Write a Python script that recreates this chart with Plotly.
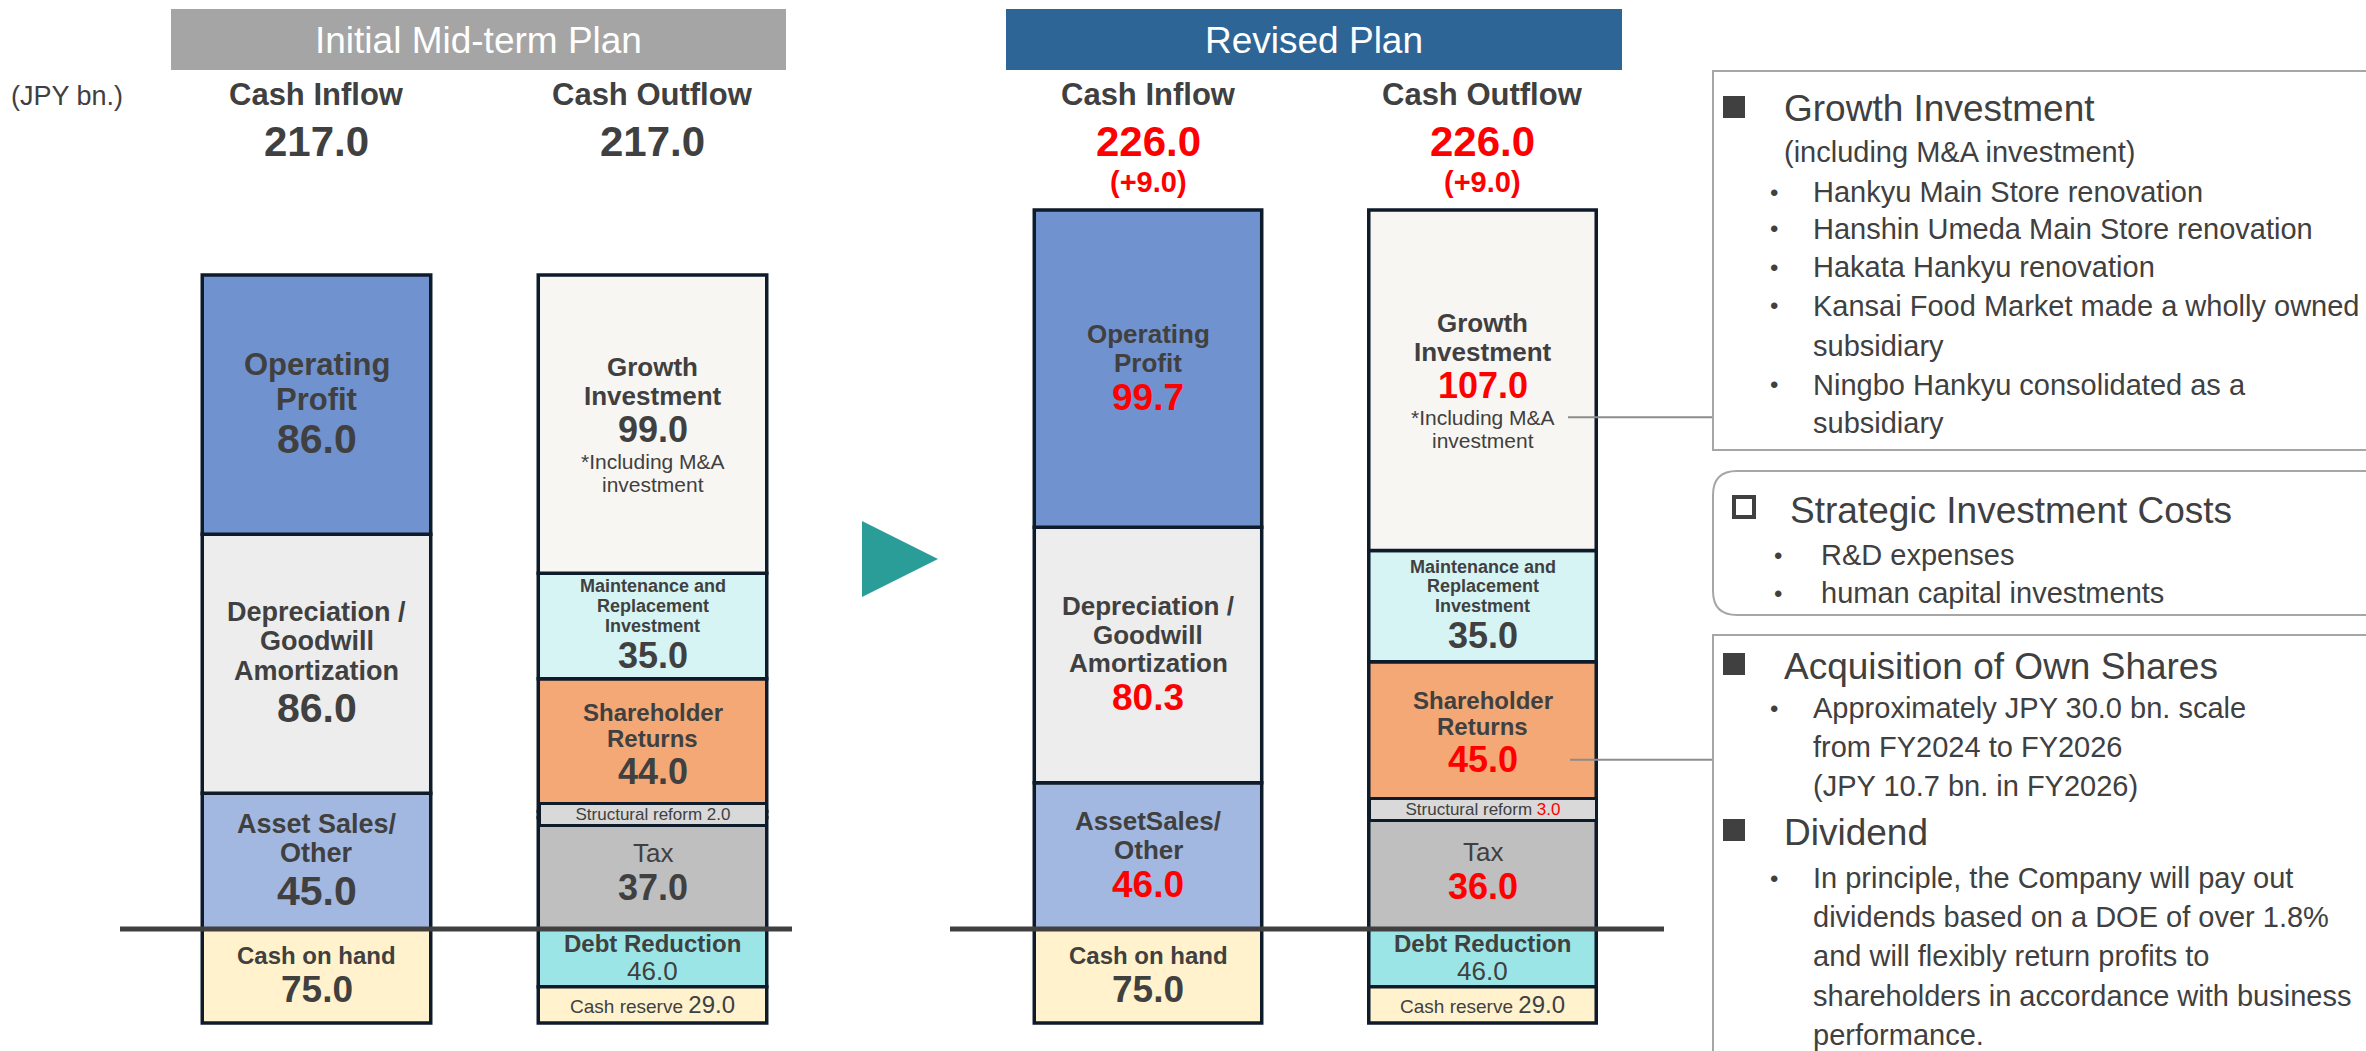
import plotly.graph_objects as go

W, H = 2366, 1051
FONT = "Liberation Sans, Arial, sans-serif"
TXT = "#404040"
RED = "#FF0000"
EDGE = "#0E1B2B"

# ---------------- data ----------------
panel_titles = ["Initial Mid-term Plan", "Revised Plan"]
columns = ["Cash Inflow", "Cash Outflow"]

inflow_items = ["Asset Sales/Other", "Depreciation / Goodwill Amortization", "Operating Profit"]
inflow_initial = [45.0, 86.0, 86.0]
inflow_revised = [46.0, 80.3, 99.7]

outflow_items = ["Tax", "Structural reform", "Shareholder Returns",
                 "Maintenance and Replacement Investment", "Growth Investment"]
outflow_initial = [37.0, 2.0, 44.0, 35.0, 99.0]
outflow_revised = [36.0, 3.0, 45.0, 35.0, 107.0]

cash_on_hand = [75.0, 75.0]
below_items = ["Debt Reduction", "Cash reserve"]
below_initial = [46.0, 29.0]
below_revised = [46.0, 29.0]

inflow_labels = [
    [["Asset Sales/", "Other"], ["Depreciation /", "Goodwill", "Amortization"], ["Operating", "Profit"]],
    [["AssetSales/", "Other"], ["Depreciation /", "Goodwill", "Amortization"], ["Operating", "Profit"]],
]
outflow_labels = [["Tax"], None, ["Shareholder", "Returns"],
                  ["Maintenance and", "Replacement", "Investment"], ["Growth", "Investment"]]
growth_note = ["*Including M&A", "investment"]

inflow_colors = ["#A3B8E0", "#EDEDED", "#7092CF"]
outflow_colors = ["#BFBFBF", "#D9D9D9", "#F3A875", "#D6F4F4", "#F8F6F2"]
coh_color = "#FFF2CC"
below_colors = ["#9CE5E6", "#FFF2CC"]

# ---------------- layout geometry ----------------
LINE_Y = 929                      # px from top where the divider sits
split = (H - LINE_Y) / H
px_per_unit_top = [3.014, 3.181]
px_per_unit_bot = 1.253
x_domains = [[148.5 / W, 820.5 / W], [980.75 / W, 1649.75 / W]]
BAR_W = 0.68

fig = go.Figure()
ann = []
shapes = []


def fmt(v):
    return f"{v:.1f}"


def block(xa, ya, cat, center, lines):
    """lines: list of (html, size). Stacks lines centred on data value `center`."""
    hs = [1.1 * s for _, s in lines]
    tot = sum(hs)
    offs = []
    acc = -tot / 2
    for (t, s), h in zip(lines, hs):
        off = acc + h / 2
        offs.append(off)
        acc += h
        ann.append(dict(xref=xa, yref=ya, x=cat, y=center, yshift=-off, text=t,
                        showarrow=False, xanchor="center", yanchor="middle",
                        font=dict(size=s, color=TXT, family=FONT)))
    return offs


def col(v, changed):
    return RED if changed else TXT


for p in range(2):
    xa = "x" if p == 0 else "x2"
    yt = "y" if p == 0 else "y2"
    yb = "y3" if p == 0 else "y4"
    vin = inflow_initial if p == 0 else inflow_revised
    vout = outflow_initial if p == 0 else outflow_revised
    vbel = below_initial if p == 0 else below_revised

    # ---- inflow stack ----
    base = 0
    lab_size = [27, 27, 31] if p == 0 else [26, 26, 26]
    val_size = 41 if p == 0 else 37
    for i, (name, v, c) in enumerate(zip(inflow_items, vin, inflow_colors)):
        fig.add_trace(go.Bar(x=[columns[0]], y=[v], name=name, xaxis=xa, yaxis=yt,
                             width=BAR_W, marker=dict(color=c, line=dict(color=EDGE, width=3.5)),
                             hoverinfo="skip"))
        changed = p == 1 and v != inflow_initial[i]
        lines = [(f"<b>{t}</b>", lab_size[i]) for t in inflow_labels[p][i]]
        lines.append((f"<b><span style='color:{col(v, changed)}'>{fmt(v)}</span></b>", val_size))
        block(xa, yt, columns[0], base + v / 2, lines)
        base += v

    # ---- outflow stack ----
    base = 0
    for i, (name, v, c) in enumerate(zip(outflow_items, vout, outflow_colors)):
        fig.add_trace(go.Bar(x=[columns[1]], y=[v], name=name, xaxis=xa, yaxis=yt,
                             width=BAR_W, marker=dict(color=c, line=dict(color=EDGE, width=3.5)),
                             hoverinfo="skip"))
        changed = p == 1 and v != outflow_initial[i]
        vc = col(v, changed)
        center = base + v / 2
        if i == 0:      # Tax
            lines = [("Tax", 26), (f"<b><span style='color:{vc}'>{fmt(v)}</span></b>", 36)]
            block(xa, yt, columns[1], center, lines)
        elif i == 1:    # Structural reform box
            ann.append(dict(xref=xa, yref=yt, x=columns[1], y=center,
                            text=f"Structural reform <span style='color:{vc}'>{fmt(v)}</span>",
                            showarrow=False, xanchor="center", yanchor="middle",
                            font=dict(size=17, color=TXT, family=FONT),
                            bgcolor="#D9D9D9", bordercolor=EDGE, borderwidth=3, borderpad=1,
                            width=222, height=17))
        elif i == 2:    # Shareholder returns
            lines = [(f"<b>{t}</b>", 24) for t in outflow_labels[i]]
            lines.append((f"<b><span style='color:{vc}'>{fmt(v)}</span></b>", 36))
            offs = block(xa, yt, columns[1], center, lines)
            if p == 1:
                shapes.append(dict(type="line", xref="paper", yref=yt, ysizemode="pixel",
                                   yanchor=center, x0=1570 / W, x1=1713 / W,
                                   y0=-offs[-1], y1=-offs[-1],
                                   line=dict(color="#8C8C8C", width=2)))
        elif i == 3:    # Maintenance
            lines = [(f"<b>{t}</b>", 18) for t in outflow_labels[i]]
            lines.append((f"<b><span style='color:{vc}'>{fmt(v)}</span></b>", 36))
            block(xa, yt, columns[1], center, lines)
        else:           # Growth investment
            lines = [(f"<b>{t}</b>", 26) for t in outflow_labels[i]]
            lines.append((f"<b><span style='color:{vc}'>{fmt(v)}</span></b>", 36))
            lines += [(t, 21) for t in growth_note]
            offs = block(xa, yt, columns[1], center, lines)
            if p == 1:
                shapes.append(dict(type="line", xref="paper", yref=yt, ysizemode="pixel",
                                   yanchor=center, x0=1568 / W, x1=1713 / W,
                                   y0=-offs[3], y1=-offs[3],
                                   line=dict(color="#8C8C8C", width=2)))
        base += v

    # ---- below the line ----
    fig.add_trace(go.Bar(x=[columns[0]], y=[-cash_on_hand[p]], name="Cash on hand", xaxis=xa, yaxis=yb,
                         width=BAR_W, marker=dict(color=coh_color, line=dict(color=EDGE, width=3.5)),
                         hoverinfo="skip"))
    block(xa, yb, columns[0], -cash_on_hand[p] / 2,
          [("<b>Cash on hand</b>", 24), (f"<b>{fmt(cash_on_hand[p])}</b>", 37)])
    base = 0
    for i, (name, v, c) in enumerate(zip(below_items, vbel, below_colors)):
        fig.add_trace(go.Bar(x=[columns[1]], y=[-v], name=name, xaxis=xa, yaxis=yb,
                             width=BAR_W, marker=dict(color=c, line=dict(color=EDGE, width=3.5)),
                             hoverinfo="skip"))
        center = -(base + v / 2)
        if i == 0:
            block(xa, yb, columns[1], center, [("<b>Debt Reduction</b>", 24), (fmt(v), 26)])
        else:
            block(xa, yb, columns[1], center,
                  [(f"Cash reserve <span style='font-size:24px'>{fmt(v)}</span>", 19)])
        base += v

    # ---- column headers ----
    tin = sum(vin)
    tout = sum(vout)
    tot0 = [sum(inflow_initial), sum(outflow_initial)]
    for j, (cname, tv) in enumerate(zip(columns, [tin, tout])):
        ann.append(dict(xref=xa, yref="paper", x=cname, y=1 - 95 / H, text=f"<b>{cname}</b>",
                        showarrow=False, xanchor="center", yanchor="middle",
                        font=dict(size=31, color=TXT, family=FONT)))
        changed = p == 1 and tv != tot0[j]
        ann.append(dict(xref=xa, yref="paper", x=cname, y=1 - 141 / H, text=f"<b>{fmt(tv)}</b>",
                        showarrow=False, xanchor="center", yanchor="middle",
                        font=dict(size=42, color=col(tv, changed), family=FONT)))
        if changed:
            ann.append(dict(xref=xa, yref="paper", x=cname, y=1 - 182 / H,
                            text=f"<b>(+{fmt(tv - tot0[j])})</b>",
                            showarrow=False, xanchor="center", yanchor="middle",
                            font=dict(size=29, color=RED, family=FONT)))

# ---------------- decorations ----------------
def P(x, y):
    return f"{x / W:.5f},{1 - y / H:.5f}"

# panel header boxes
for (x0, x1, c, t) in [(171, 786, "#A5A5A5", panel_titles[0]), (1006, 1622, "#2D6596", panel_titles[1])]:
    shapes.append(dict(type="rect", xref="paper", yref="paper", x0=x0 / W, x1=x1 / W,
                       y0=1 - 70 / H, y1=1 - 9 / H, fillcolor=c, line=dict(width=0), layer="below"))
    ann.append(dict(xref="paper", yref="paper", x=(x0 + x1) / 2 / W, y=1 - 40 / H, text=t,
                    showarrow=False, xanchor="center", yanchor="middle",
                    font=dict(size=37, color="white", family=FONT)))

ann.append(dict(xref="paper", yref="paper", x=67 / W, y=1 - 96 / H, text="(JPY bn.)",
                showarrow=False, xanchor="center", yanchor="middle",
                font=dict(size=27, color=TXT, family=FONT)))

# divider lines
for (x0, x1) in [(120, 792), (950, 1664)]:
    shapes.append(dict(type="line", xref="paper", yref="paper", x0=x0 / W, x1=x1 / W,
                       y0=split, y1=split, line=dict(color="#404040", width=5), layer="above"))

# arrow
shapes.append(dict(type="path", xref="paper", yref="paper",
                   path=f"M{P(862, 521)} L{P(938, 559)} L{P(862, 597)} Z",
                   fillcolor="#2A9D98", line=dict(width=0)))

# right-hand boxes
shapes.append(dict(type="rect", xref="paper", yref="paper", x0=1713 / W, x1=1.02,
                   y0=1 - 450 / H, y1=1 - 71 / H, line=dict(color="#A6A6A6", width=2)))
L, R, T, B, r = 1713, 2420, 471, 615, 24
shapes.append(dict(type="path", xref="paper", yref="paper",
                   path=(f"M{P(L + r, T)} L{P(R, T)} L{P(R, B)} L{P(L + r, B)} "
                         f"Q{P(L, B)} {P(L, B - r)} L{P(L, T + r)} Q{P(L, T)} {P(L + r, T)} Z"),
                   line=dict(color="#A6A6A6", width=2)))
shapes.append(dict(type="rect", xref="paper", yref="paper", x0=1713 / W, x1=1.02,
                   y0=-0.02, y1=1 - 635 / H, line=dict(color="#A6A6A6", width=2)))


def rtxt(x, y, t, s):
    ann.append(dict(xref="paper", yref="paper", x=x / W, y=1 - y / H, text=t, showarrow=False,
                    xanchor="left", yanchor="middle", font=dict(size=s, color=TXT, family=FONT)))


def bullet(x, y):
    ann.append(dict(xref="paper", yref="paper", x=x / W, y=1 - y / H, text="•", showarrow=False,
                    xanchor="center", yanchor="middle", font=dict(size=24, color=TXT, family=FONT)))


def square(cy, filled=True, cx=1734, s=22):
    shapes.append(dict(type="rect", xref="paper", yref="paper",
                       x0=(cx - s / 2) / W, x1=(cx + s / 2) / W,
                       y0=1 - (cy + s / 2) / H, y1=1 - (cy - s / 2) / H,
                       fillcolor="#404040" if filled else "white",
                       line=dict(color="#404040", width=0 if filled else 4)))


box1_head = "Growth Investment"
box1_sub = "(including M&A investment)"
box1_items = [("Hankyu Main Store renovation", True), ("Hanshin Umeda Main Store renovation", True),
              ("Hakata Hankyu renovation", True), ("Kansai Food Market made a wholly owned", True),
              ("subsidiary", False), ("Ningbo Hankyu consolidated as a", True), ("subsidiary", False)]
box1_y = [192, 229, 267, 306, 346, 385, 423]

square(107)
rtxt(1782, 109, box1_head, 37)
rtxt(1782, 152, box1_sub, 29)
for (t, b), y in zip(box1_items, box1_y):
    if b:
        bullet(1774, y)
    rtxt(1811, y, t, 29)

box2_head = "Strategic Investment Costs"
box2_items = ["R&D expenses", "human capital investments"]
square(507, filled=False, cx=1744, s=20)
rtxt(1788, 510, box2_head, 37)
for t, y in zip(box2_items, [555, 593]):
    bullet(1778, y)
    rtxt(1819, y, t, 29)

box3_head1 = "Acquisition of Own Shares"
box3_items1 = [("Approximately JPY 30.0 bn. scale", True), ("from FY2024 to FY2026", False),
               ("(JPY 10.7 bn. in FY2026)", False)]
box3_head2 = "Dividend"
box3_items2 = [("In principle, the Company will pay out", True),
               ("dividends based on a DOE of over 1.8%", False),
               ("and will flexibly return profits to", False),
               ("shareholders in accordance with business", False),
               ("performance.", False)]
square(664)
rtxt(1782, 666, box3_head1, 37)
for (t, b), y in zip(box3_items1, [708, 747, 786]):
    if b:
        bullet(1774, y)
    rtxt(1811, y, t, 29)
square(830)
rtxt(1782, 832, box3_head2, 37)
for (t, b), y in zip(box3_items2, [878, 917, 956, 996, 1035]):
    if b:
        bullet(1774, y)
    rtxt(1811, y, t, 29)

# ---------------- axes ----------------
hidden = dict(visible=False, showgrid=False, zeroline=False, fixedrange=True)
fig.update_layout(
    width=W, height=H, autosize=False,
    margin=dict(l=0, r=0, t=0, b=0, pad=0),
    paper_bgcolor="white", plot_bgcolor="rgba(0,0,0,0)",
    barmode="relative", showlegend=False,
    font=dict(family=FONT, color=TXT),
    xaxis=dict(domain=x_domains[0], range=[-0.5, 1.5], type="category",
               categoryorder="array", categoryarray=columns, anchor="y", **hidden),
    xaxis2=dict(domain=x_domains[1], range=[-0.5, 1.5], type="category",
                categoryorder="array", categoryarray=columns, anchor="y2", **hidden),
    yaxis=dict(domain=[split, 1], range=[0, LINE_Y / px_per_unit_top[0]], anchor="x", **hidden),
    yaxis2=dict(domain=[split, 1], range=[0, LINE_Y / px_per_unit_top[1]], anchor="x2", **hidden),
    yaxis3=dict(domain=[0, split], range=[-(H - LINE_Y) / px_per_unit_bot, 0], anchor="x", **hidden),
    yaxis4=dict(domain=[0, split], range=[-(H - LINE_Y) / px_per_unit_bot, 0], anchor="x2", **hidden),
    annotations=ann, shapes=shapes,
)

fig.write_html("out.html")
